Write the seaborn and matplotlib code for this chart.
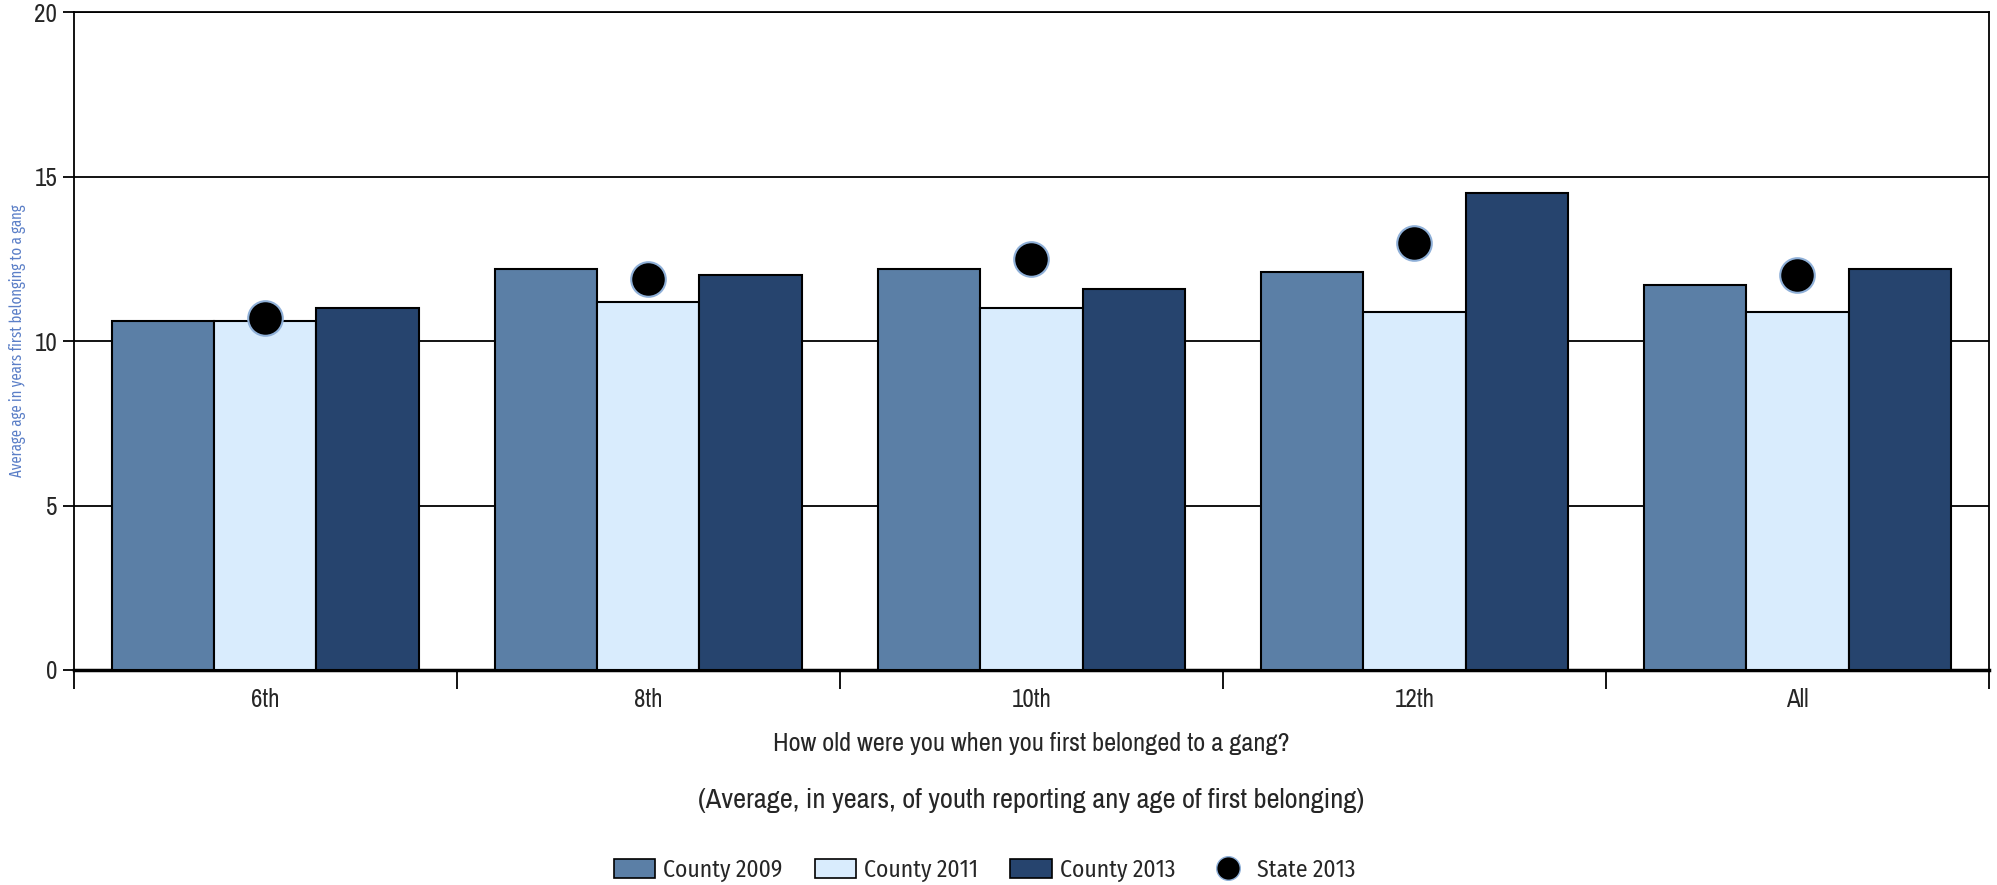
# Average age of first gang membership - grouped bars with state markers

import pandas as pd
import matplotlib.pyplot as plt
import seaborn as sns
from matplotlib.ticker import FixedLocator

# -----------------------------
# Data
# -----------------------------
grades = ['6th', '8th', '10th', '12th', 'All']
county_2009 = [10.6, 12.2, 12.2, 12.1, 11.7]
county_2011 = [10.6, 11.2, 11.0, 10.9, 10.9]
county_2013 = [11.0, 12.0, 11.6, 14.5, 12.2]
state_2013 = [10.7, 11.9, 12.5, 13.0, 12.0]
series_names = ['County 2009', 'County 2011', 'County 2013']

df = pd.DataFrame({
    'Grade': grades * 3,
    'Age': county_2009 + county_2011 + county_2013,
    'Series': [s for s in series_names for _ in grades],
})

colors = ['#5b7fa6', '#d9ecfd', '#26446e']
condensed = ['Fira Sans Condensed', 'Liberation Sans', 'DejaVu Sans']
xcondensed = ['Fira Sans Extra Condensed', 'Fira Sans Condensed', 'Liberation Sans', 'DejaVu Sans']
narrow = ['Archivo Narrow', 'Pragati Narrow', 'Liberation Sans', 'DejaVu Sans']

sns.set_style('white')
plt.rcParams['font.family'] = ['Liberation Sans', 'DejaVu Sans']

fig = plt.figure(figsize=(19.97, 8.85), dpi=100)
ax_box = [0.037, 0.243, 0.959, 0.743]
ax = fig.add_axes(ax_box)

sns.barplot(data=df, x='Grade', y='Age', hue='Series', palette=colors,
            saturation=1, width=0.8, edgecolor='black', linewidth=1.5,
            errorbar=None, ax=ax, legend=False, zorder=3)

sns.scatterplot(x=grades, y=state_2013, ax=ax, color='black', s=620,
                edgecolor='#8fb0d8', linewidth=1.5, zorder=4)

# -----------------------------
# Axes styling
# -----------------------------
ax.set_ylim(0, 20)
ax.set_xlim(-0.5, len(grades) - 0.5)
ax.set_yticks([0, 5, 10, 15, 20])
ax.yaxis.grid(True, color='black', linewidth=1.3, zorder=0)
ax.set_axisbelow(True)
for side in ['left', 'right', 'top']:
    ax.spines[side].set_color('black')
    ax.spines[side].set_linewidth(1.3)
ax.spines['bottom'].set_color('black')
ax.spines['bottom'].set_linewidth(2.5)

ax.tick_params(axis='y', which='major', length=8, width=1.3, color='black',
               labelsize=16, pad=4, left=True)
ax.tick_params(axis='x', which='major', length=0, labelsize=16, pad=13)
ax.xaxis.set_minor_locator(FixedLocator([i - 0.5 for i in range(len(grades) + 1)]))
ax.tick_params(axis='x', which='minor', length=14, width=1.3, color='black',
               bottom=True)
for lab in ax.get_xticklabels() + ax.get_yticklabels():
    lab.set_family(narrow)
    lab.set_fontsize(18)

ax.set_ylabel('Average age in years first belonging to a gang', color='#5b7fc7',
              fontsize=11.5, family=xcondensed, labelpad=6)
ax.set_xlabel('How old were you when you first belonged to a gang?',
              fontsize=19, family=narrow, labelpad=15)
fig.text(ax_box[0] + ax_box[2] / 2, 0.095,
         '(Average, in years, of youth reporting any age of first belonging)',
         ha='center', va='center', fontsize=20.5, family=narrow)

# -----------------------------
# Legend
# -----------------------------
handles = [plt.Rectangle((0, 0), 1, 1, facecolor=c, edgecolor='black', linewidth=1.2)
           for c in colors]
handles.append(plt.Line2D([], [], linestyle='none', marker='o', markersize=17,
                          markerfacecolor='black', markeredgecolor='#8fb0d8'))
fig.legend(handles, series_names + ['State 2013'], loc='center',
           bbox_to_anchor=(0.493, 0.017), ncol=4, frameon=False,
           prop={'family': condensed, 'size': 17}, handlelength=1.75,
           handleheight=0.9, columnspacing=1.35, handletextpad=0.35)

fig.savefig('out.png', dpi=100)
